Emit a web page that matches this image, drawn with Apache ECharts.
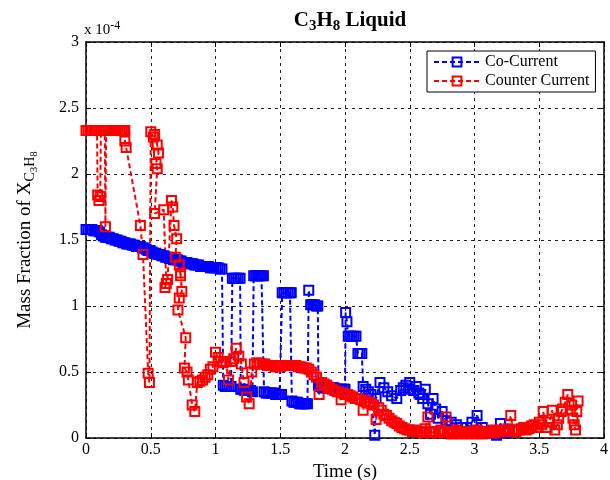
<!DOCTYPE html>
<html>
<head>
<meta charset="utf-8">
<script src="https://cdn.jsdelivr.net/npm/echarts@6/dist/echarts.min.js"></script>
<style>
  html, body { margin: 0; padding: 0; background: #fff; }
  #chart { width: 610px; height: 480px; }
</style>
</head>
<body>
<div id="chart"></div>
<script>
// [time (s), mass fraction in units of 1e-4]
const coCurrent = [
  [0.000, 1.58], [0.015, 1.58], [0.030, 1.58], [0.045, 1.58], [0.060, 1.57], [0.075, 1.57], [0.090, 1.57],
  [0.105, 1.56], [0.120, 1.54], [0.135, 1.53], [0.150, 1.52], [0.165, 1.52], [0.180, 1.52], [0.195, 1.51],
  [0.210, 1.51], [0.225, 1.50], [0.240, 1.50], [0.255, 1.49], [0.270, 1.49], [0.285, 1.48], [0.300, 1.48],
  [0.315, 1.47], [0.330, 1.47], [0.345, 1.47], [0.360, 1.46], [0.375, 1.46], [0.390, 1.45], [0.405, 1.45],
  [0.420, 1.45], [0.435, 1.44], [0.450, 1.44], [0.465, 1.43], [0.480, 1.42], [0.495, 1.42], [0.510, 1.41],
  [0.525, 1.40], [0.540, 1.40], [0.555, 1.39], [0.570, 1.39], [0.585, 1.38], [0.600, 1.38], [0.615, 1.37],
  [0.630, 1.37], [0.645, 1.36], [0.660, 1.36], [0.675, 1.35], [0.690, 1.35], [0.705, 1.35], [0.720, 1.34],
  [0.735, 1.34], [0.750, 1.33], [0.765, 1.33], [0.780, 1.33], [0.795, 1.32], [0.810, 1.32], [0.825, 1.32],
  [0.840, 1.31], [0.855, 1.31], [0.870, 1.31], [0.885, 1.30], [0.900, 1.30], [0.915, 1.30], [0.930, 1.30],
  [0.945, 1.30], [0.960, 1.29], [0.975, 1.29], [0.990, 1.29], [1.005, 1.29], [1.020, 1.29], [1.035, 1.28],
  [1.050, 1.28], [1.060, 0.40], [1.075, 0.39], [1.090, 0.39], [1.105, 0.39], [1.120, 0.39], [1.130, 1.21],
  [1.145, 1.21], [1.160, 1.21], [1.175, 1.21], [1.190, 1.21], [1.195, 0.37], [1.210, 0.37], [1.225, 0.36],
  [1.240, 0.36], [1.255, 0.36], [1.270, 0.36], [1.285, 0.35], [1.295, 1.23], [1.310, 1.23], [1.325, 1.23],
  [1.340, 1.23], [1.355, 1.23], [1.370, 1.23], [1.375, 0.35], [1.390, 0.34], [1.405, 0.34], [1.420, 0.34],
  [1.435, 0.34], [1.450, 0.34], [1.465, 0.33], [1.480, 0.33], [1.495, 0.33], [1.510, 0.33], [1.515, 1.10],
  [1.530, 1.10], [1.545, 1.10], [1.560, 1.10], [1.575, 1.10], [1.585, 1.10], [1.590, 0.28], [1.605, 0.27],
  [1.620, 0.27], [1.635, 0.27], [1.650, 0.26], [1.665, 0.26], [1.680, 0.26], [1.695, 0.26], [1.710, 0.26],
  [1.720, 1.12], [1.735, 1.01], [1.750, 1.01], [1.765, 1.01], [1.780, 1.00], [1.790, 1.00], [1.795, 0.40],
  [1.810, 0.39], [1.825, 0.38], [1.840, 0.38], [1.855, 0.38], [1.870, 0.38], [1.885, 0.38], [1.900, 0.38],
  [1.915, 0.38], [1.930, 0.37], [1.945, 0.37], [1.960, 0.37], [1.975, 0.37], [1.990, 0.37], [2.000, 0.37],
  [2.005, 0.95], [2.015, 0.88], [2.025, 0.77], [2.040, 0.77], [2.055, 0.77], [2.070, 0.77], [2.085, 0.77],
  [2.100, 0.64], [2.115, 0.64], [2.130, 0.64], [2.140, 0.39], [2.160, 0.37], [2.180, 0.35], [2.200, 0.33],
  [2.230, 0.02], [2.240, 0.30], [2.270, 0.42], [2.300, 0.38], [2.330, 0.35], [2.360, 0.32], [2.400, 0.30],
  [2.430, 0.36], [2.450, 0.38], [2.470, 0.40], [2.490, 0.37], [2.500, 0.42], [2.530, 0.36], [2.550, 0.39],
  [2.570, 0.34], [2.580, 0.33], [2.600, 0.30], [2.620, 0.37], [2.640, 0.26], [2.660, 0.18], [2.680, 0.30],
  [2.700, 0.22], [2.720, 0.15], [2.750, 0.20], [2.780, 0.13], [2.820, 0.12], [2.860, 0.10], [2.900, 0.08],
  [2.940, 0.08], [2.980, 0.12], [3.020, 0.17], [3.060, 0.08], [3.100, 0.05], [3.140, 0.04], [3.170, 0.02],
  [3.200, 0.11], [3.240, 0.04], [3.270, 0.06]
];

const counterCurrent = [
  [0.000, 2.33], [0.015, 2.33], [0.030, 2.33], [0.045, 2.33], [0.060, 2.33], [0.075, 2.33], [0.085, 2.33],
  [0.090, 1.84], [0.100, 1.80], [0.110, 1.83], [0.115, 2.33], [0.130, 2.33], [0.145, 2.33], [0.150, 1.60],
  [0.155, 2.33], [0.170, 2.33], [0.185, 2.33], [0.200, 2.33], [0.215, 2.33], [0.230, 2.33], [0.245, 2.33],
  [0.260, 2.33], [0.275, 2.33], [0.290, 2.33], [0.300, 2.33], [0.300, 2.25], [0.310, 2.20], [0.420, 1.61],
  [0.440, 1.39], [0.480, 0.49], [0.490, 0.42], [0.500, 2.32], [0.520, 2.28], [0.530, 2.30], [0.550, 2.22],
  [0.560, 2.16], [0.540, 2.08], [0.550, 2.04], [0.530, 1.70], [0.600, 1.73], [0.620, 1.17], [0.610, 1.14],
  [0.630, 1.20], [0.660, 1.80], [0.670, 1.75], [0.680, 1.61], [0.700, 1.51], [0.690, 1.37], [0.720, 1.31],
  [0.730, 1.23], [0.730, 1.25], [0.740, 1.11], [0.720, 1.06], [0.710, 0.97], [0.770, 0.76], [0.760, 0.53],
  [0.780, 0.50], [0.790, 0.44], [0.820, 0.25], [0.840, 0.20], [0.860, 0.42], [0.880, 0.43], [0.900, 0.44],
  [0.920, 0.46], [0.940, 0.48], [0.960, 0.52], [0.980, 0.54], [1.000, 0.65], [1.020, 0.61], [1.040, 0.58],
  [1.060, 0.57], [1.080, 0.58], [1.100, 0.44], [1.120, 0.58], [1.140, 0.60], [1.160, 0.68], [1.180, 0.62],
  [1.200, 0.56], [1.220, 0.42], [1.240, 0.31], [1.260, 0.26], [1.280, 0.50], [1.300, 0.56], [1.320, 0.57],
  [1.340, 0.56], [1.360, 0.56], [1.380, 0.56], [1.400, 0.55], [1.420, 0.55], [1.440, 0.55], [1.460, 0.54],
  [1.480, 0.54], [1.500, 0.54], [1.520, 0.55], [1.540, 0.55], [1.560, 0.55], [1.580, 0.55], [1.600, 0.55],
  [1.620, 0.55], [1.640, 0.54], [1.660, 0.54], [1.680, 0.53], [1.700, 0.53], [1.720, 0.52], [1.740, 0.50],
  [1.760, 0.48], [1.780, 0.46], [1.800, 0.33], [1.820, 0.42], [1.840, 0.41], [1.860, 0.40], [1.880, 0.38],
  [1.900, 0.37], [1.920, 0.36], [1.940, 0.35], [1.970, 0.29], [1.980, 0.34], [2.000, 0.33], [2.020, 0.33],
  [2.040, 0.32], [2.060, 0.31], [2.080, 0.30], [2.100, 0.30], [2.120, 0.29], [2.140, 0.21], [2.160, 0.28],
  [2.180, 0.27], [2.200, 0.26], [2.220, 0.25], [2.240, 0.14], [2.260, 0.23], [2.280, 0.21], [2.300, 0.18],
  [2.320, 0.17], [2.340, 0.15], [2.360, 0.13], [2.380, 0.12], [2.400, 0.11], [2.420, 0.09], [2.440, 0.08],
  [2.460, 0.07], [2.480, 0.06], [2.500, 0.06], [2.520, 0.05], [2.540, 0.06], [2.560, 0.05], [2.580, 0.05],
  [2.600, 0.04], [2.620, 0.07], [2.640, 0.16], [2.660, 0.05], [2.680, 0.04], [2.700, 0.05], [2.720, 0.04],
  [2.740, 0.06], [2.760, 0.05], [2.780, 0.16], [2.800, 0.05], [2.820, 0.03], [2.840, 0.04], [2.860, 0.06],
  [2.880, 0.05], [2.900, 0.03], [2.920, 0.04], [2.940, 0.05], [2.960, 0.05], [2.980, 0.03], [3.000, 0.04],
  [3.020, 0.06], [3.040, 0.05], [3.060, 0.03], [3.080, 0.04], [3.100, 0.05], [3.120, 0.04], [3.140, 0.06],
  [3.160, 0.04], [3.180, 0.05], [3.200, 0.06], [3.220, 0.05], [3.240, 0.05], [3.260, 0.07], [3.280, 0.17],
  [3.300, 0.06], [3.320, 0.05], [3.340, 0.06], [3.360, 0.07], [3.380, 0.08], [3.400, 0.06], [3.420, 0.07],
  [3.440, 0.09], [3.460, 0.10], [3.480, 0.08], [3.500, 0.12], [3.520, 0.10], [3.530, 0.20], [3.560, 0.08],
  [3.580, 0.12], [3.600, 0.21], [3.620, 0.06], [3.640, 0.10], [3.650, 0.15], [3.670, 0.20], [3.680, 0.22],
  [3.700, 0.27], [3.720, 0.33], [3.740, 0.21], [3.750, 0.25], [3.760, 0.15], [3.770, 0.10], [3.780, 0.06],
  [3.790, 0.20], [3.800, 0.28]
];

const seriesNames = ['Co-Current', 'Counter Current'];
const seriesColors = ['#0000ff', '#ff0000'];

const serif = 'Liberation Serif';

const chart = echarts.init(document.getElementById('chart'));

function lineSeries(idx, data) {
  return {
    name: seriesNames[idx],
    type: 'line',
    data: data,
    symbol: 'rect',
    symbolSize: 9,
    showAllSymbol: true,
    animation: false,
    lineStyle: { color: seriesColors[idx], width: 2, type: [5, 3] },
    itemStyle: { color: 'rgba(0,0,0,0)', borderColor: seriesColors[idx], borderWidth: 2 }
  };
}

const boxAxis = {
  axisLine: { show: true, onZero: false, lineStyle: { color: '#000', width: 1.5 } },
  axisTick: { show: true, inside: true, length: 5, lineStyle: { color: '#000' } }
};

const option = {
  backgroundColor: '#fff',
  animation: false,
  title: {
    text: 'C{sub|3}H{sub|8} Liquid',
    left: 345,
    textAlign: 'center',
    top: 3,
    textStyle: {
      fontFamily: serif, fontSize: 21, fontWeight: 'bold', color: '#000',
      rich: { sub: { fontFamily: serif, fontSize: 15, fontWeight: 'bold', padding: [11, 0, 0, 0] } }
    }
  },
  legend: {
    orient: 'vertical',
    left: 427,
    top: 51,
    backgroundColor: '#fff',
    borderColor: '#000',
    borderWidth: 1,
    padding: [3, 6, 3, 6],
    itemGap: 3,
    itemWidth: 46,
    itemHeight: 11,
    textStyle: { fontFamily: serif, fontSize: 16, color: '#000' },
    data: seriesNames
  },
  graphic: [{
    type: 'text',
    left: 84,
    top: 20,
    style: {
      text: 'x 10{sup|-4}',
      fontFamily: serif, fontSize: 15, fill: '#000',
      rich: { sup: { fontFamily: serif, fontSize: 12, padding: [0, 0, 9, 0] } }
    }
  }],
  grid: { left: 86, right: 6, top: 42, bottom: 42, outerBoundsMode: 'none' },
  xAxis: [Object.assign({
    type: 'value', min: 0, max: 4, interval: 0.5,
    name: 'Time (s)', nameLocation: 'middle', nameGap: 20,
    nameTextStyle: { fontFamily: serif, fontSize: 19, color: '#000' },
    axisLabel: { fontFamily: serif, fontSize: 16, color: '#000', margin: 4 },
    splitLine: { show: true, lineStyle: { color: '#222', type: [3, 4], width: 1 } }
  }, boxAxis), Object.assign({
    type: 'value', min: 0, max: 4, interval: 0.5, position: 'top',
    axisLabel: { show: false },
    splitLine: { show: false }
  }, boxAxis)],
  yAxis: [Object.assign({
    type: 'value', min: 0, max: 3, interval: 0.5,
    name: 'Mass Fraction of X{sub|C}{sub2|3}{sub|H}{sub2|8}',
    nameLocation: 'middle', nameGap: 46, nameRotate: 90,
    nameTextStyle: {
      fontFamily: serif, fontSize: 19, color: '#000',
      rich: {
        sub: { fontFamily: serif, fontSize: 14, color: '#000', padding: [10, 0, 0, 0] },
        sub2: { fontFamily: serif, fontSize: 11, color: '#000', padding: [19, 0, 0, 0] }
      }
    },
    axisLabel: { fontFamily: serif, fontSize: 16, color: '#000', margin: 7 },
    splitLine: { show: true, lineStyle: { color: '#222', type: [3, 4], width: 1 } }
  }, boxAxis), Object.assign({
    type: 'value', min: 0, max: 3, interval: 0.5, position: 'right',
    axisLabel: { show: false },
    splitLine: { show: false }
  }, boxAxis)],
  series: [
    lineSeries(0, coCurrent),
    lineSeries(1, counterCurrent)
  ]
};

chart.setOption(option);
</script>
</body>
</html>
